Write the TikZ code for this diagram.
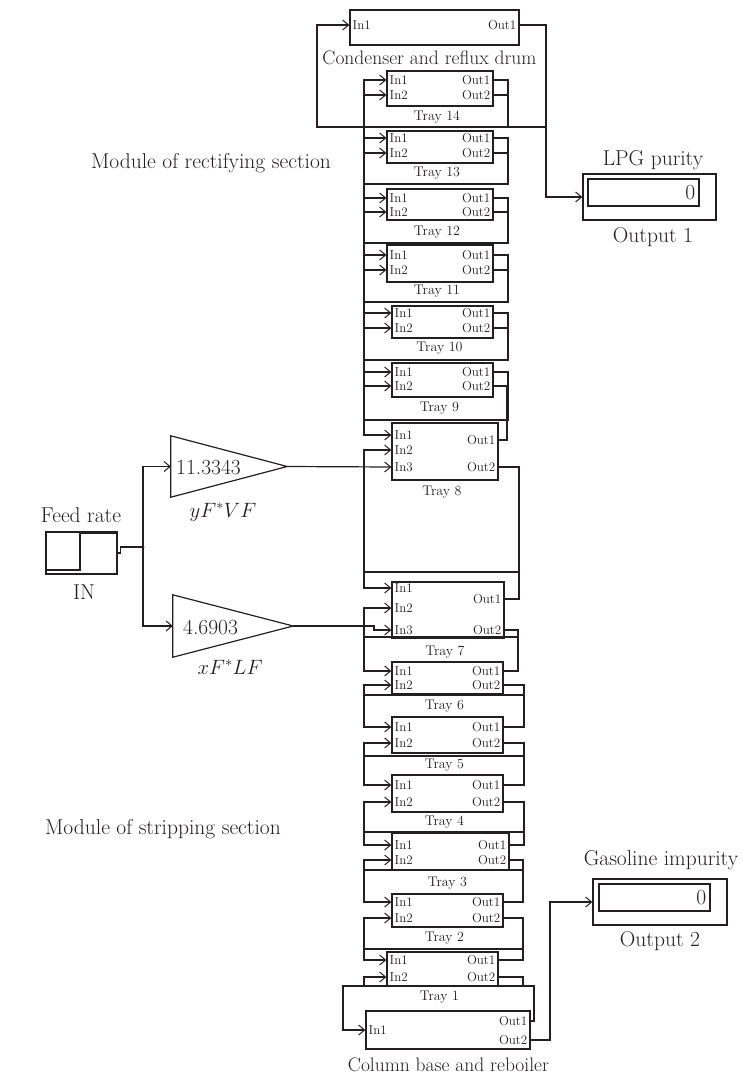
\documentclass[tikz,border=0pt]{standalone}
\usetikzlibrary{arrows.meta,calc}
\definecolor{ink}{HTML}{231F20}
\tikzset{
  >={Straight Barb[length=6pt,width=10pt,line width=1pt]},
  every node/.style={text=ink},
  block/.style={draw=ink,line width=1.3pt,inner sep=0pt},
  dispbox/.style={draw=ink,line width=1.1pt,inner sep=0pt},
  port/.style={font=\fontsize{13}{14}\selectfont,inner sep=2.5pt},
  traytag/.style={font=\fontsize{14}{15}\selectfont,inner sep=1pt},
  unittag/.style={font=\fontsize{19.5}{21}\selectfont,inner sep=1pt},
  bigtag/.style={font=\fontsize{21.5}{24}\selectfont,inner sep=1pt},
  wire/.style={draw=ink,line width=1.2pt},
  signal/.style={wire,->},
}

\begin{document}
\begin{tikzpicture}[x=1pt,y=-1pt]
\useasboundingbox (0,0) rectangle (742,1076);

% condenser on top, reboiler at the bottom
\node[block,minimum width=169,minimum height=35] (cond) at (434.5,27.5) {};
\node[port,anchor=west] (cond-in1) at (350,25) {In1};
\node[port,anchor=east] (cond-out1) at (519,25) {Out1};
\node[unittag] (cond-name) at (429.5,58) {Condenser and reflux drum};

\node[block,minimum width=164,minimum height=38] (base) at (448,1030) {};
\node[port,anchor=west] (base-in1) at (366,1030) {In1};
\node[port,anchor=east] (base-out1) at (530,1021) {Out1};
\node[port,anchor=east] (base-out2) at (530,1040) {Out2};
\node[unittag] (base-name) at (448.5,1065) {Column base and reboiler};

% trays: name/left/right/top/bottom/in1/in2/out1/out2/tag
\foreach \n/\xa/\xb/\ya/\yb/\pa/\pb/\qa/\qb/\yn in {
  14/387/493/71/106/80/95/80/95/117,
  13/387/493/131/163/138/153/138/153/173,
  12/387/493/189/220/198/212/198/212/232,
  11/387/493/245/282/255/270/255/270/291,
  10/392/493/306/338/313/328/313/328/348,
  9/392/493/363/397/372/386/372/386/408,
  8/392/498/423/480/435/450/440/467/492,
  7/392/504/582/638/588/608/599/630/652,
  6/392/503/662/694/671/685/671/685/706,
  5/392/503/717/753/727/743/727/743/765,
  4/392/503/775/812/785/802/785/802/822,
  3/392/509/833/870/845/860/845/860/883,
  2/392/503/894/927/902/918/902/918/938,
  1/387/498/952/986/960/977/960/977/997}{
  \pgfmathsetmacro\bw{\xb-\xa}
  \pgfmathsetmacro\bh{\yb-\ya}
  \node[block,minimum width=\bw,minimum height=\bh] (t\n) at ({(\xa+\xb)/2},{(\ya+\yb)/2}) {};
  \node[port,anchor=west] (t\n-in1) at (\xa,\pa) {In1};
  \node[port,anchor=west] (t\n-in2) at (\xa,\pb) {In2};
  \node[port,anchor=east] (t\n-out1) at (\xb,\qa) {Out1};
  \node[port,anchor=east] (t\n-out2) at (\xb,\qb) {Out2};
  \node[traytag] (t\n-name) at ({(\xa+\xb)/2-3},\yn) {Tray \n};
}
\node[port,anchor=west] (t8-in3) at (392,467) {In3};
\node[port,anchor=west] (t7-in3) at (392,630) {In3};

% feed and the two gains
\node[block,minimum width=71,minimum height=42] (feed) at (81.5,553) {};
\draw[wire] (46,570) -- (80,570) -- (80,533) -- (117,533);
\node[bigtag] (feed-name) at (81,515) {Feed rate};
\node[bigtag] (feed-tag) at (84,592) {IN};
\coordinate (split) at (143,547);

\node[minimum width=116,minimum height=61,inner sep=0pt] (g1) at (229,466.5) {};
\draw[wire] (g1.north west) -- (g1.east) -- (g1.south west) -- cycle;
\node[bigtag,anchor=west] (g1-val) at (175,467) {11.3343};
\node[bigtag] (g1-name) at (223,512) {$yF^{*}VF$};

\node[minimum width=120,minimum height=62,inner sep=0pt] (g2) at (233,626) {};
\draw[wire] (g2.north west) -- (g2.east) -- (g2.south west) -- cycle;
\node[bigtag,anchor=west] (g2-val) at (182,627) {4.6903};
\node[bigtag] (g2-name) at (230,667) {$xF^{*}LF$};

% displays
\node[block,minimum width=133,minimum height=46] (lpg) at (649.5,197) {};
\node[dispbox,minimum width=111,minimum height=27] (lpg-box) at (643.5,192.5) {};
\node[bigtag,anchor=east,inner sep=4pt] (lpg-val) at (lpg-box.east) {0};
\node[bigtag] (lpg-name) at (653,160) {LPG purity};
\node[bigtag] (lpg-tag) at (653,237) {Output 1};

\node[block,minimum width=134,minimum height=46] (gas) at (660,902) {};
\node[dispbox,minimum width=111,minimum height=27] (gas-box) at (654.5,897.5) {};
\node[bigtag,anchor=east,inner sep=4pt] (gas-val) at (gas-box.east) {0};
\node[bigtag] (gas-name) at (661,860) {Gasoline impurity};
\node[bigtag] (gas-tag) at (660,941) {Output 2};

\node[bigtag] (rect-tag) at (211,163) {Module of rectifying section};
\node[bigtag] (strip-tag) at (163,829) {Module of stripping section};

% overhead: vapour in, reflux back and product out
\draw[signal] (cond.east |- cond-out1) -| (546,197) -- (lpg.west);
\draw[signal] (cond.east |- cond-out1) -| (546,127) -- (364,127) |- (t14.west |- t14-in1);
\draw[signal] (t14.east |- t14-out1) -| (508,127) -- (317,127) |- (cond.west |- cond-in1);

% tray to tray: liquid down (Out2 -> In1), vapour up (Out1 -> In2)
\foreach \up/\dn/\yl/\xl/\yv/\xv in {
  14/13/127/508/184/508,
  13/12/184/508/243/508,
  12/11/243/508/302/508,
  11/10/302/508/360/508,
  10/9/360/508/420/508,
  9/8/420/507/420/507,
  8/7/572/519/572/519,
  7/6/637/518/637/518,
  6/5/695/524/695/524,
  5/4/756/524/756/524,
  4/3/832/524/832/524,
  3/2/870/523/870/523,
  2/1/949/523/949/523}{
  \draw[signal] (t\up.east |- t\up-out2) -| (\xl,\yl) -- (364,\yl) |- (t\dn.west |- t\dn-in1);
  \draw[signal] (t\dn.east |- t\dn-out1) -| (\xv,\yv) -- (364,\yv) |- (t\up.west |- t\up-in2);
}

% reboiler
\draw[signal] (t1.east |- t1-out2) -| (523,986) -- (343,986) |- (base.west |- base-in1);
\draw[signal] (base.east |- base-out1) -| (534,986) -- (364,986) |- (t1.west |- t1-in2);
\draw[signal] (base.east |- base-out2) -| (550,902) -- (gas.west);

% feed split
\draw[wire] (feed.east) -- ++(3,0) |- (split);
\fill[ink] (split) circle (1.6);
\draw[signal] (split) |- (g1.west);
\draw[signal] (split) |- (g2.west);
\draw[signal] (g1.east) -- (t8.west |- t8-in3);
\draw[signal] (g2.east) -- (374,626) |- (t7.west |- t7-in3);
\end{tikzpicture}
\end{document}
